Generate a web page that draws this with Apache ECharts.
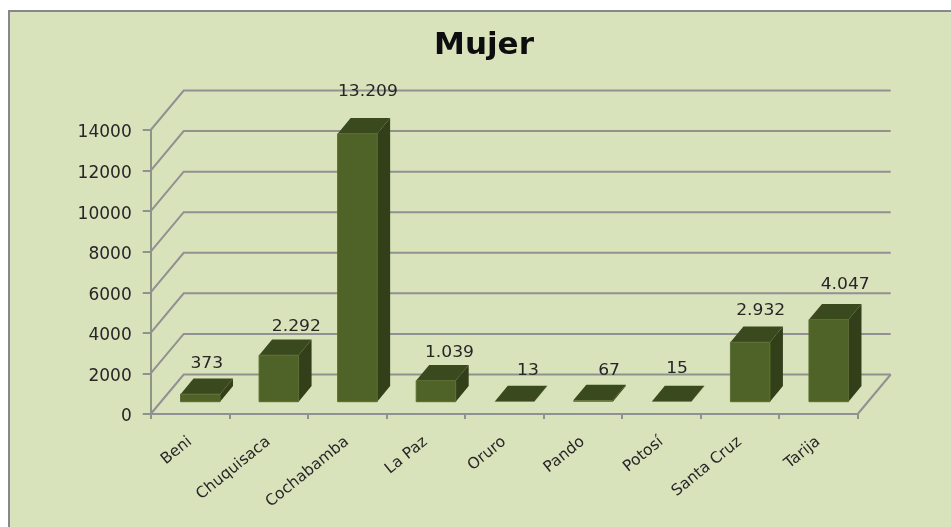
<!DOCTYPE html>
<html>
<head>
<meta charset="utf-8">
<style>html,body{margin:0;padding:0;background:#fff}#c{width:951px;height:527px}</style>
<script src="https://cdn.jsdelivr.net/npm/echarts@6/dist/echarts.min.js"></script>
</head>
<body>
<div id="c"></div>
<script>
const chartTitle = 'Mujer';
const categories = ['Beni', 'Chuquisaca', 'Cochabamba', 'La Paz', 'Oruro', 'Pando', 'Potosí', 'Santa Cruz', 'Tarija'];
const mujerValues = [373, 2292, 13209, 1039, 13, 67, 15, 2932, 4047];
const yTicks = [0, 2000, 4000, 6000, 8000, 10000, 12000, 14000];

// Presentation only: hand-placed data label shifts from the top back edge of each bar
const labelShiftX = [0, 11, 4, 7, 7, 9.5, -1, 4, 10];
const labelShiftY = [-15, -13, -26, -12, -15, -14, -17, -16, -19];

const GRID = '#919191';
const TEXT = '#262626';
const FRONT = '#4f6228', TOP = '#3b491e', SIDE = '#333f19', EDGE = '#5a6e30';
const WALL = { dx: 33, dy: -39.5 };
const BAR = { inX: 10.3, inY: -12.3, dx: 13, dy: -15.7, w: 39.5 };

function fmt(v) { return String(v).replace(/\B(?=(\d{3})+$)/g, '.'); }

function renderGrid(params, api) {
  const cs = params.coordSys;
  const v = api.value(1);
  const y = api.coord([0, v])[1];
  const x0 = cs.x, x1 = cs.x + cs.width;
  const lineStyle = { stroke: GRID, lineWidth: 2, fill: null };
  const children = [{
    type: 'polyline',
    shape: { points: [[x0, y], [x0 + WALL.dx, y + WALL.dy], [x1 + WALL.dx, y + WALL.dy]] },
    style: lineStyle
  }];
  if (v === 0) {
    children.push({
      type: 'line',
      shape: { x1: x1, y1: y, x2: x1 + WALL.dx, y2: y + WALL.dy },
      style: lineStyle
    });
  }
  return { type: 'group', children: children };
}

function renderBar(params, api) {
  const i = api.value(0);
  const val = api.value(1);
  const c = api.coord([i, val]);
  const base = api.coord([i, 0]);
  const l = c[0] + BAR.inX - BAR.w / 2, r = l + BAR.w;
  const t = c[1] + BAR.inY, b = base[1] + BAR.inY;
  const dx = BAR.dx, dy = BAR.dy;
  const cx = c[0] + BAR.inX + dx / 2 + labelShiftX[i];
  return {
    type: 'group',
    children: [
      { type: 'polygon', shape: { points: [[r, t], [r + dx, t + dy], [r + dx, b + dy], [r, b]] }, style: { fill: SIDE } },
      { type: 'polygon', shape: { points: [[l, t], [l + dx, t + dy], [r + dx, t + dy], [r, t]] }, style: { fill: TOP } },
      { type: 'rect', shape: { x: l, y: t, width: BAR.w, height: b - t }, style: { fill: FRONT, stroke: b - t > 2 ? EDGE : null, lineWidth: 1 } },
      {
        type: 'text', x: cx, y: t + dy + labelShiftY[i], scaleX: 1.07,
        style: { text: fmt(val), fill: TEXT, font: '16px "DejaVu Sans"', textAlign: 'center', textVerticalAlign: 'middle' }
      }
    ]
  };
}

const chart = echarts.init(document.getElementById('c'), null, { renderer: 'canvas', width: 951, height: 527 });
chart.setOption({
  animation: false,
  backgroundColor: '#ffffff',
  title: {
    text: chartTitle, left: 479, top: 25, textAlign: 'center',
    textStyle: { fontFamily: 'DejaVu Sans', fontWeight: 'bold', fontSize: 31, color: '#0d0d0d' }
  },
  graphic: [{
    type: 'rect', z: -10, silent: true,
    shape: { x: 9, y: 11, width: 960, height: 540 },
    style: { fill: '#d8e3bc', stroke: '#888888', lineWidth: 2 }
  }],
  grid: { left: 150.7, top: 130, width: 707, height: 284 },
  xAxis: {
    type: 'category', data: categories,
    axisLine: { lineStyle: { color: GRID, width: 2 } },
    axisTick: { show: true, length: 5, lineStyle: { color: GRID, width: 2 } },
    axisLabel: { interval: 0, rotate: 39, margin: 26, color: TEXT, fontFamily: 'DejaVu Sans', fontSize: 15.5 }
  },
  yAxis: {
    type: 'value', min: 0, max: 14000, interval: 2000,
    splitLine: { show: false },
    axisLine: { show: true, lineStyle: { color: GRID, width: 2 } },
    axisTick: { show: true, length: 8, lineStyle: { color: GRID, width: 2 } },
    axisLabel: {
      margin: 19, color: TEXT, fontFamily: 'DejaVu Sans', fontSize: 17,
      formatter: v => '{n|' + v + '}',
      rich: { n: { fontFamily: 'DejaVu Sans', fontSize: 17, color: TEXT, padding: [6, 0, 0, 0] } }
    }
  },
  series: [
    { type: 'custom', name: 'Rejilla', silent: true, clip: false, z: 1, renderItem: renderGrid,
      data: yTicks.map(v => [0, v]), encode: { x: 0, y: 1 } },
    { type: 'custom', name: chartTitle, silent: true, clip: false, z: 2, renderItem: renderBar,
      data: mujerValues.map((v, i) => [i, v]), encode: { x: 0, y: 1 } }
  ]
});
</script>
</body>
</html>
